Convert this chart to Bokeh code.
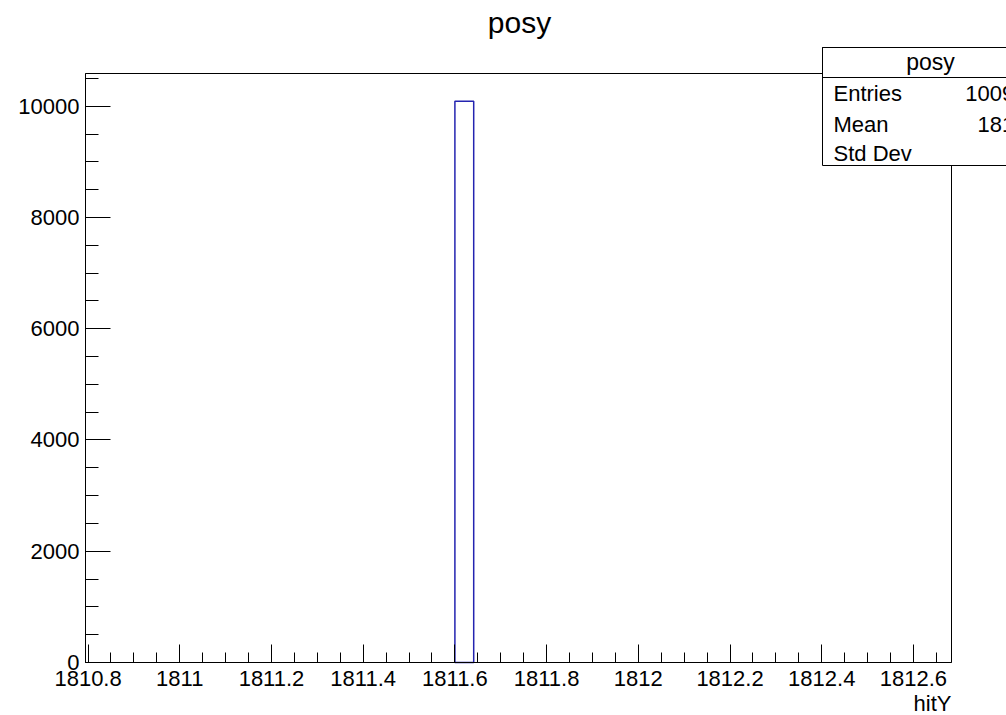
import numpy as np
from bokeh.plotting import figure
from bokeh.models import (Range1d, FixedTicker, CustomJSTickFormatter, Label,
                          BoxAnnotation, LinearAxis)
from bokeh.embed import file_html
from bokeh.resources import INLINE

# ---------------- data ----------------
hist_title = "posy"
x_label = "hitY"
bin_left = [1811.6]
bin_right = [1811.641]
counts = [10090]
x_limits = [1810.7944, 1812.683]
y_limits = [0, 10588]
x_major_ticks = [1810.8, 1811.0, 1811.2, 1811.4, 1811.6, 1811.8,
                 1812.0, 1812.2, 1812.4, 1812.6]
y_major_ticks = [0, 2000, 4000, 6000, 8000, 10000]
stats_names = ["Entries", "Mean", "Std Dev"]
stats_values = ["10090", "1812", "0"]

FONT = "Liberation Sans"

# frame geometry in canvas pixels (top-left origin)
FL, FR, FT, FB = 85, 951, 73, 662
W, H = 1006, 715
TEXT_SHIFT = 7  # baseline correction for Label text

# the plotting area covers the whole canvas; axes sit at fixed data locations
pxx = (FR - FL) / (x_limits[1] - x_limits[0])
pyy = (FB - FT) / (y_limits[1] - y_limits[0])
xr = Range1d(x_limits[0] - FL / pxx, x_limits[0] + (W - FL) / pxx)
yr = Range1d(y_limits[0] - (H - FB) / pyy, y_limits[1] + FT / pyy)

p = figure(width=W, height=H, output_backend="svg", toolbar_location=None,
           x_range=xr, y_range=yr, x_axis_type=None, y_axis_type=None,
           min_border=0, min_border_left=0, min_border_right=0,
           min_border_top=0, min_border_bottom=0)
p.background_fill_color = "white"
p.border_fill_color = "white"
p.outline_line_color = None
p.xgrid.visible = False
p.ygrid.visible = False

# frame box
p.add_layout(BoxAnnotation(left=x_limits[0], right=x_limits[1],
                           bottom=y_limits[0], top=y_limits[1],
                           fill_alpha=0.0, line_color="black",
                           line_alpha=1.0, line_width=1, level="underlay"))

p.quad(left=bin_left, right=bin_right, bottom=[0] * len(counts), top=counts,
       fill_color=None, line_color="#2424b0", line_width=1.5)

x_minor = [round(v, 3) for v in np.arange(1810.8, x_limits[1], 0.05)]
y_minor = list(range(0, 10600, 500))

xa = LinearAxis(fixed_location=y_limits[0], bounds=(x_limits[0], x_limits[1]))
xa.ticker = FixedTicker(ticks=x_major_ticks, minor_ticks=x_minor)
xa.formatter = CustomJSTickFormatter(code="var s = tick.toFixed(1); return s.endsWith('.0') ? s.slice(0, -2) : s;")
xa.major_tick_in = 18
xa.major_tick_out = 0
xa.minor_tick_in = 10
xa.minor_tick_out = 0
xa.major_label_standoff = 8
xa.major_label_text_font = FONT
xa.major_label_text_font_size = "22px"
xa.major_label_text_color = "black"
xa.axis_line_color = "black"
xa.major_tick_line_color = "black"
xa.minor_tick_line_color = "black"
p.add_layout(xa, "below")

ya = LinearAxis(fixed_location=x_limits[0], bounds=(y_limits[0], y_limits[1]))
ya.ticker = FixedTicker(ticks=y_major_ticks, minor_ticks=y_minor)
ya.major_tick_in = 25
ya.major_tick_out = 0
ya.minor_tick_in = 13
ya.minor_tick_out = 0
ya.major_label_standoff = 6
ya.major_label_text_font = FONT
ya.major_label_text_font_size = "22px"
ya.major_label_text_color = "black"
ya.axis_line_color = "black"
ya.major_tick_line_color = "black"
ya.minor_tick_line_color = "black"
p.add_layout(ya, "left")


def sx(X):
    return X


def sy(Y):
    return H - Y


def add_text(X, Y, text, size, align="left"):
    p.add_layout(Label(x=sx(X), y=sy(Y - TEXT_SHIFT), x_units="screen", y_units="screen",
                       text=text, text_font=FONT, text_font_size=size,
                       text_align=align, text_baseline="alphabetic",
                       text_color="black"))


# title and axis label
add_text(519, 28.5, hist_title, "30px", "center")
add_text(951, 710, x_label, "22px", "right")

# stats box
BL, BR, BT, BSEP, BB = 822, 1038, 47, 77, 165
p.add_layout(BoxAnnotation(left=sx(BL), right=sx(BR), top=sy(BT), bottom=sy(BB),
                           left_units="screen", right_units="screen",
                           top_units="screen", bottom_units="screen",
                           fill_color="white", fill_alpha=1.0,
                           line_color="black", line_alpha=1.0, line_width=1))
p.add_layout(BoxAnnotation(left=sx(BL), right=sx(BR), top=sy(BT), bottom=sy(BSEP),
                           left_units="screen", right_units="screen",
                           top_units="screen", bottom_units="screen",
                           fill_alpha=0.0,
                           line_color="black", line_alpha=1.0, line_width=1))
add_text(930, 68.5, hist_title, "23px", "center")
row_baselines = [100, 131, 160]
for name, val, yb in zip(stats_names, stats_values, row_baselines):
    add_text(833, yb, name, "22px", "left")
    add_text(1026, yb, val, "22px", "right")

open("out.html", "w").write(file_html(p, INLINE))
